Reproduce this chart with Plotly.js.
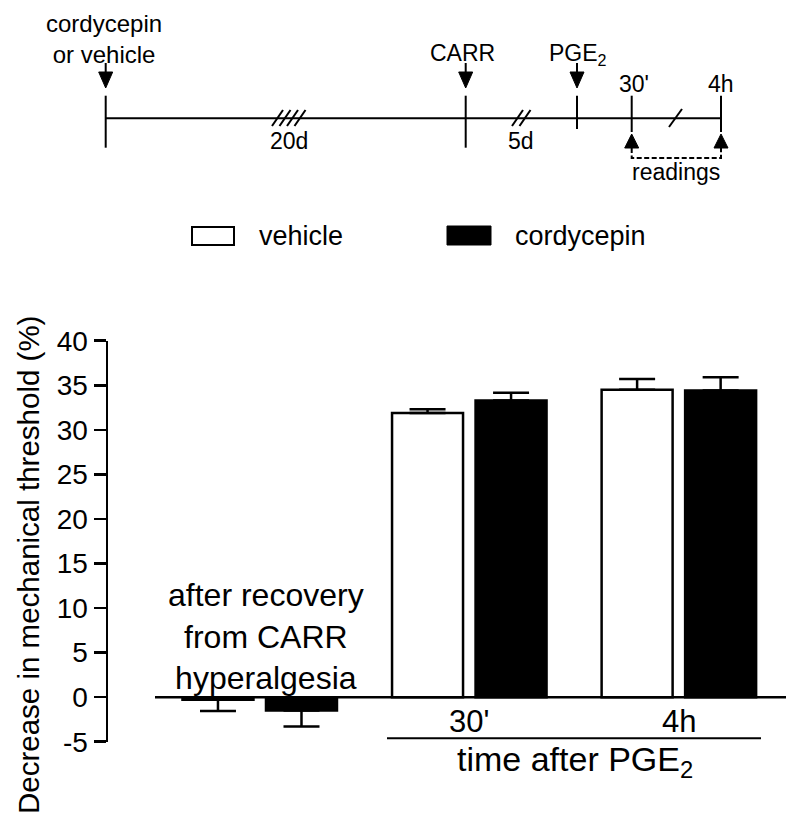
<!DOCTYPE html>
<html>
<head>
<meta charset="utf-8">
<script src="https://cdn.plot.ly/plotly-3.0.1.min.js"></script>
<style>
  html, body { margin: 0; padding: 0; background: #fff; }
  #chart { width: 800px; height: 828px; }
</style>
</head>
<body>
<div id="chart"></div>
<script>
// data
var groups = ["after recovery from CARR hyperalgesia", "30'", "4h"];
var vehicleMean = [-0.3, 31.9, 34.5];
var vehicleSem = [1.25, 0.4, 1.2];
var cordyMean = [-1.5, 33.3, 34.4];
var cordySem = [1.8, 0.85, 1.5];
var yTicks = [-5, 0, 5, 10, 15, 20, 25, 30, 35, 40];
var yTickText = ["-5", "0", "5", "10", "15", "20", "25", "30", "35", "40"];

var W = 800, H = 828;
var FONT = "Liberation Sans, Arial, sans-serif";

// page pixel -> paper coords (margins are zero)
function px(x) { return x / W; }
function py(y) { return 1 - y / H; }

// error bars point away from the baseline only
function upErr(m, s) { return m.map(function (v, i) { return v >= 0 ? s[i] : 0; }); }
function downErr(m, s) { return m.map(function (v, i) { return v < 0 ? s[i] : 0; }); }

var traces = [
  {
    type: "bar", name: "vehicle", x: groups, y: vehicleMean,
    marker: { color: "#ffffff", line: { color: "#000", width: 2.5 } },
    error_y: { type: "data", symmetric: false, array: upErr(vehicleMean, vehicleSem),
      arrayminus: downErr(vehicleMean, vehicleSem), color: "#000", thickness: 2.5, width: 18 },
    showlegend: false, hoverinfo: "skip"
  },
  {
    type: "bar", name: "cordycepin", x: groups, y: cordyMean,
    marker: { color: "#000000", line: { color: "#000", width: 2.5 } },
    error_y: { type: "data", symmetric: false, array: upErr(cordyMean, cordySem),
      arrayminus: downErr(cordyMean, cordySem), color: "#000", thickness: 2.5, width: 18 },
    showlegend: false, hoverinfo: "skip"
  }
];

// timeline sketch at the top (pixel positions)
var tlY = 118.3;
var tlX0 = 105.7, tlEnd = 721;
var downArrows = [105.7, 465.7, 577];
var upArrows = [631.7, 721];

function line(x0, y0, x1, y1, w, dash) {
  return { type: "line", xref: "paper", yref: "paper", x0: px(x0), y0: py(y0), x1: px(x1), y1: py(y1),
    line: { color: "#000", width: w || 2, dash: dash || "solid" } };
}
function tri(pts) {
  var d = "M" + pts.map(function (p) { return px(p[0]) + "," + py(p[1]); }).join(" L") + " Z";
  return { type: "path", xref: "paper", yref: "paper", path: d, fillcolor: "#000", line: { color: "#000", width: 1 } };
}
function label(text, x, y, size, opts) {
  var a = { text: text, xref: "paper", yref: "paper", x: px(x), y: py(y), showarrow: false,
    xanchor: "center", yanchor: "middle", font: { family: FONT, size: size, color: "#000" } };
  for (var k in (opts || {})) a[k] = opts[k];
  return a;
}

var shapes = [];
shapes.push(line(tlX0, tlY, tlEnd, tlY, 2));
shapes.push(line(105.7, 95.7, 105.7, 147.7, 2));
shapes.push(line(465.7, 95.7, 465.7, 147.7, 2));
shapes.push(line(577, 95.7, 577, 129, 2));
shapes.push(line(631.7, 95.7, 631.7, 132, 2));
shapes.push(line(721, 95.7, 721, 132, 2));
downArrows.forEach(function (x) {
  shapes.push(line(x, 63, x, 73, 2));
  shapes.push(tri([[x - 7, 72], [x + 7, 72], [x, 88]]));
});
upArrows.forEach(function (x) {
  shapes.push(tri([[x - 7, 148], [x + 7, 148], [x, 134]]));
});
shapes.push({ type: "path", xref: "paper", yref: "paper",
  path: "M" + px(631.7) + "," + py(148) + " L" + px(631.7) + "," + py(158) + " L" + px(721) + "," + py(158) + " L" + px(721) + "," + py(148),
  line: { color: "#000", width: 2, dash: "5px,2.5px" } });
// axis break marks
[272, 279.5, 287, 294.5].forEach(function (x) { shapes.push(line(x, 126, x + 11, 110, 2)); });
[512, 519.5].forEach(function (x) { shapes.push(line(x, 126, x + 11, 110, 2)); });
shapes.push(line(669, 127, 682, 109, 2));

// legend boxes
shapes.push({ type: "rect", xref: "paper", yref: "paper", x0: px(192), y0: py(227), x1: px(234), y1: py(245),
  fillcolor: "#fff", line: { color: "#000", width: 2 } });
shapes.push({ type: "rect", xref: "paper", yref: "paper", x0: px(447), y0: py(226), x1: px(491), y1: py(245),
  fillcolor: "#000", line: { color: "#000", width: 1 } });

// baseline at zero and the "time after" bracket
shapes.push({ type: "line", xref: "paper", yref: "y", x0: px(155), x1: px(786), y0: 0, y1: 0,
  line: { color: "#000", width: 2.5 } });
shapes.push(line(387, 738.3, 761, 738.3, 2));

var annotations = [
  label("cordycepin<br>or vehicle", 104, 39, 24),
  label("CARR", 462, 53, 23),
  label("PGE<sub>2</sub>", 578, 55, 23),
  label("30'", 634, 84, 23),
  label("4h", 721, 84, 23),
  label("20d", 289, 141, 23),
  label("5d", 521, 141, 23),
  label("readings", 676, 172, 23),
  label("vehicle", 257, 236, 27, { xanchor: "left" }),
  label("cordycepin", 513, 236, 27, { xanchor: "left" }),
  label("Decrease in mechanical threshold (%)", 28, 565, 29.5, { textangle: -90 }),
  { text: "after recovery<br>from CARR<br>hyperalgesia", xref: "x", yref: "paper", x: groups[0], y: py(636),
    xshift: 6, showarrow: false, xanchor: "center", yanchor: "middle", font: { family: FONT, size: 32, color: "#000" } },
  { text: groups[1], xref: "x", yref: "paper", x: groups[1], y: py(721), showarrow: false,
    xanchor: "center", yanchor: "middle", font: { family: FONT, size: 31, color: "#000" } },
  { text: groups[2], xref: "x", yref: "paper", x: groups[2], y: py(721), showarrow: false,
    xanchor: "center", yanchor: "middle", font: { family: FONT, size: 31, color: "#000" } },
  label("time after PGE<sub>2</sub>", 575, 761, 34)
];

var layout = {
  width: W, height: H,
  margin: { l: 0, r: 0, t: 0, b: 0 },
  paper_bgcolor: "#fff", plot_bgcolor: "rgba(0,0,0,0)",
  barmode: "group", bargap: 0.203, bargroupgap: 0.15,
  showlegend: false,
  font: { family: FONT, color: "#000" },
  xaxis: { type: "category", domain: [px(108), 1], range: [-0.724, 2.578], visible: false, fixedrange: true },
  yaxis: {
    domain: [py(741.7), py(340.7)], range: [-5, 40],
    tickmode: "array", tickvals: yTicks, ticktext: yTickText,
    showgrid: false, zeroline: false, showline: true, linecolor: "#000", linewidth: 2.5,
    ticks: "outside", ticklen: 12, tickwidth: 2.5, tickcolor: "#000",
    tickfont: { family: FONT, size: 28, color: "#000" }, fixedrange: true
  },
  shapes: shapes,
  annotations: annotations
};

Plotly.newPlot("chart", traces, layout, { displayModeBar: false, staticPlot: true });
</script>
</body>
</html>
